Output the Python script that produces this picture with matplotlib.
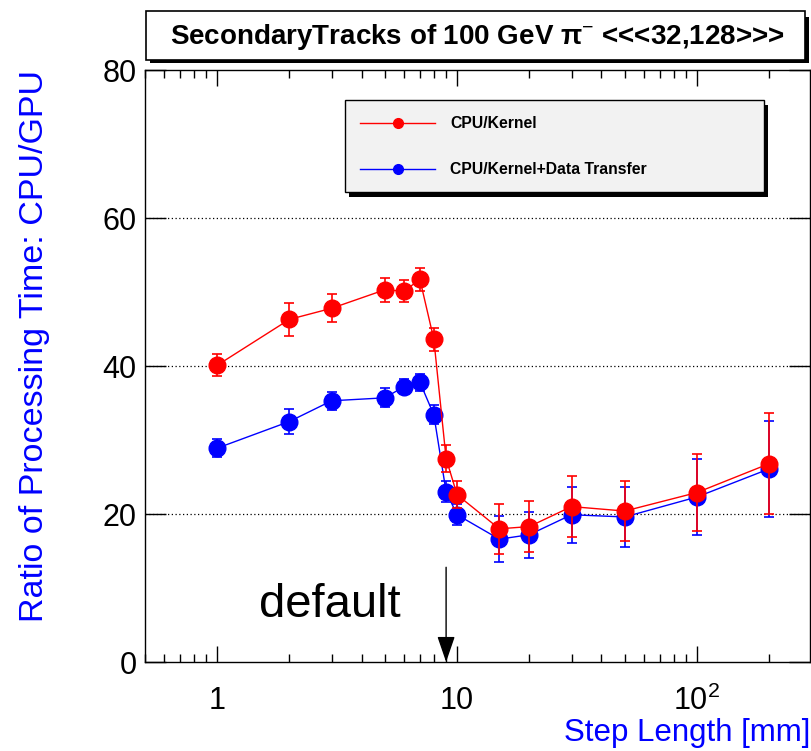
import numpy as np
import matplotlib
matplotlib.use("Agg")
import matplotlib.pyplot as plt
from matplotlib.patches import Rectangle
from matplotlib.lines import Line2D
from matplotlib.ticker import FixedLocator, FuncFormatter, NullFormatter

plt.rcParams["font.family"] = ["Liberation Sans", "DejaVu Sans"]
plt.rcParams["mathtext.fontset"] = "custom"
plt.rcParams["mathtext.rm"] = "Liberation Sans"
plt.rcParams["mathtext.it"] = "Liberation Sans:italic"
plt.rcParams["mathtext.bf"] = "Liberation Sans:bold"

# step lengths [mm]
step_mm = [1, 2, 3, 5, 6, 7, 8, 9, 10, 15, 20, 30, 50, 100, 200]

# CPU / GPU kernel-only ratio
kernel = [40.1, 46.3, 47.8, 50.3, 50.1, 51.7, 43.6, 27.5, 22.6,
          18.0, 18.3, 21.0, 20.4, 22.9, 26.8]
kernel_err = [1.5, 2.2, 1.9, 1.6, 1.5, 1.6, 1.6, 1.8, 1.8,
              3.4, 3.4, 4.1, 4.1, 5.2, 6.8]

# CPU / GPU kernel + data transfer ratio
transfer = [28.9, 32.5, 35.3, 35.7, 37.2, 37.8, 33.4, 23.0, 19.9,
            16.6, 17.2, 19.9, 19.6, 22.3, 26.1]
transfer_err = [1.2, 1.65, 1.2, 1.3, 1.0, 1.15, 1.3, 1.4, 1.4,
                3.1, 3.1, 3.8, 4.1, 5.2, 6.5]

default_step = 9

W, H = 812, 751
fig = plt.figure(figsize=(W / 100, H / 100), dpi=100)


def fx(x):
    return x / W


def fy(y):
    return 1 - y / H


ax = fig.add_axes([fx(145), fy(662), fx(810) - fx(145), fy(70) - fy(662)])
ax.set_xscale("log")
ax.set_xlim(0.5, 296)
ax.set_ylim(0, 80)

for y in [20, 40, 60]:
    ax.axhline(y, color="black", lw=0.9, ls=(0, (1, 2)), zorder=1)

ax.errorbar(step_mm, kernel, yerr=kernel_err, color="#ff0000", lw=1,
            marker="o", ms=12, capsize=3.5, elinewidth=1.2, capthick=1.2,
            zorder=3)
ax.errorbar(step_mm, transfer, yerr=transfer_err, color="#0000ff", lw=1,
            marker="o", ms=12, capsize=3.5, elinewidth=1.2, capthick=1.2,
            zorder=2)

# "default" step marker
ax.annotate("", xy=(default_step, 0), xytext=(default_step, 12.8),
            arrowprops=dict(arrowstyle="-|>,head_length=1.6,head_width=0.55",
                            color="black", lw=1, shrinkA=0, shrinkB=0),
            zorder=4)
ax.text(0.278, 0.097, "default", fontsize=34, ha="center", va="center",
        transform=ax.transAxes)

# ticks
ax.xaxis.set_major_locator(FixedLocator([1, 10, 100]))
minors = [m * d for d in [0.1, 1, 10, 100] for m in range(2, 10)]
ax.xaxis.set_minor_locator(FixedLocator(minors))
ax.xaxis.set_minor_formatter(NullFormatter())
ax.xaxis.set_major_formatter(FuncFormatter(
    lambda v, p: {1: "1", 10: "10", 100: r"$10^2$"}.get(int(round(v)), "")))
ax.set_yticks([0, 20, 40, 60, 80])
ax.tick_params(axis="both", which="both", direction="in", top=True,
               right=True, labelsize=22, width=1, color="black")
ax.tick_params(axis="x", which="major", length=11.5, pad=17)
ax.tick_params(axis="x", which="minor", length=5.8)
ax.tick_params(axis="y", which="major", length=15, pad=6)
for s in ax.spines.values():
    s.set_linewidth(1)

# axis titles
fig.text(fx(35), fy(70), "Ratio of Processing Time: CPU/GPU", rotation=90,
         ha="center", va="top", color="#0000ff", fontsize=24.5)
fig.text(fx(810), fy(733), "Step Length [mm]", ha="right", va="center",
         color="#0000ff", fontsize=22.5)

# title box with shadow
fig.add_artist(Rectangle((fx(150), fy(63)), fx(805) - fx(146),
                         fy(14) - fy(60), transform=fig.transFigure,
                         facecolor="black", edgecolor="none"))
fig.add_artist(Rectangle((fx(146), fy(60)), fx(805) - fx(146),
                         fy(11) - fy(60), transform=fig.transFigure,
                         facecolor="white", edgecolor="black", lw=1.2))
fig.text(fx(477), fy(37), "SecondaryTracks of 100 GeV π$^{-}$ <<<32,128>>>",
         ha="center", va="center", fontsize=20, fontweight="bold")

# legend box with shadow
fig.add_artist(Rectangle((fx(349), fy(197)), fx(768) - fx(349),
                         fy(105) - fy(197), transform=fig.transFigure,
                         facecolor="black", edgecolor="none"))
fig.add_artist(Rectangle((fx(345), fy(192)), fx(764) - fx(345),
                         fy(100) - fy(192), transform=fig.transFigure,
                         facecolor="#f2f2f2", edgecolor="black", lw=1))
for ypx, col, lab in [(123, "#ff0000", "CPU/Kernel"),
                      (169, "#0000ff", "CPU/Kernel+Data Transfer")]:
    fig.add_artist(Line2D([fx(360), fx(435)], [fy(ypx), fy(ypx)],
                          transform=fig.transFigure, color=col, lw=1))
    fig.add_artist(Line2D([fx(398)], [fy(ypx)], transform=fig.transFigure,
                          color=col, marker="o", ms=7))
    fig.text(fx(450), fy(ypx), lab, ha="left", va="center", fontsize=11.3,
             fontweight="bold")

fig.savefig("out.png", dpi=100)
